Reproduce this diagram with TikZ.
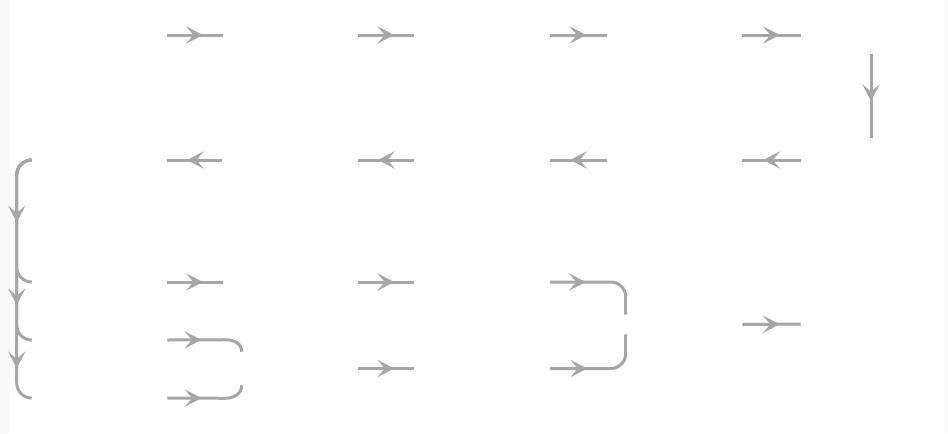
\documentclass[tikz,border=0pt]{standalone}
\usetikzlibrary{arrows.meta,decorations.markings,calc}
\definecolor{flowgrey}{RGB}{166,166,166}
\definecolor{paper}{RGB}{249,249,249}
\tikzset{
  slot/.style={draw=none,inner sep=0pt,minimum width=101.25pt,minimum height=28.5pt},
  wideslot/.style={slot,minimum width=105pt},
  flow/.style={color=flowgrey,line width=2.25pt,postaction={decorate},
    decoration={markings,mark=at position #1 with
      {\arrow{Stealth[length=12.5pt,width=13pt,inset=5.5pt]}}}},
  flow/.default=0.64,
}
\begin{document}
\begin{tikzpicture}[x=0.75pt,y=-0.75pt]
  \useasboundingbox[fill=paper] (0,0) rectangle (948,433);
  \fill[white] (10,0) rectangle (945,433);
  % empty slots of the chart
  \node[slot] (a1) at (99.5,35) {};
  \node[slot] (b1) at (290.5,35) {};
  \node[slot] (c1) at (482,35) {};
  \node[slot] (d1) at (674.5,35) {};
  \node[wideslot] (e1) at (871,35) {};
  \node[slot] (a2) at (99.5,160) {};
  \node[slot] (b2) at (290,160) {};
  \node[slot] (c2) at (482,160) {};
  \node[slot] (d2) at (674.5,160) {};
  \node[wideslot,minimum height=33pt] (e2) at (871,160) {};
  \node[slot] (a3) at (99.5,282) {};
  \node[slot] (b3) at (290.5,282) {};
  \node[slot] (c3) at (482,282) {};
  \node[slot,minimum height=14.25pt] (d3) at (674.5,324.5) {};
  \node[wideslot] (e3) at (871,324) {};
  \node[slot] (a4) at (99.5,340) {};
  \node[slot,minimum height=24.75pt] (b4) at (290.5,368.5) {};
  \node[slot] (c4) at (482,368.5) {};
  \node[slot] (a5) at (99.5,398) {};
  % first row
  \draw[flow] (a1) -- (b1);
  \draw[flow] (b1) -- (c1);
  \draw[flow] (c1) -- (d1);
  \draw[flow] (d1) -- (e1);
  \draw[flow=0.56] (e1) -- (e2);
  % second row, back again
  \draw[flow] (e2) -- (d2);
  \draw[flow] (d2) -- (c2);
  \draw[flow] (c2) -- (b2);
  \draw[flow] (b2) -- (a2);
  % down the left side
  \draw[flow=0.51,rounded corners=11.25pt] (a2.west) -- ++(-15,0) |- (a3.west);
  \draw[flow=0.78,rounded corners=11.25pt] (a2.west) -- ++(-15,0) |- (a4.west);
  \draw[flow=0.85,rounded corners=11.25pt] (a2.west) -- ++(-15,0) |- (a5.west);
  % lower part
  \draw[flow=0.42] (a4.east) -- ($(b4.north west)+(2,-12)$)
    .. controls +(10,0) and +(0,-8) .. ($(b4.north west)+(19,0)$);
  \draw[flow=0.42] (a5.east) -- ($(b4.south west)+(2,13)$)
    .. controls +(10,0) and +(0,8) .. ($(b4.south west)+(19,0)$);
  \draw[flow] (a3) -- (b3);
  \draw[flow] (b3) -- (c3);
  \draw[flow] (b4) -- (c4);
  \draw[flow=0.35,rounded corners=11.25pt] (c3.east) -| ($(d3.north west)+(19,0)$);
  \draw[flow=0.36,rounded corners=11.25pt] (c4.east) -| ($(d3.south west)+(19,0)$);
  \draw[flow] (d3) -- (e3);
\end{tikzpicture}
\end{document}
